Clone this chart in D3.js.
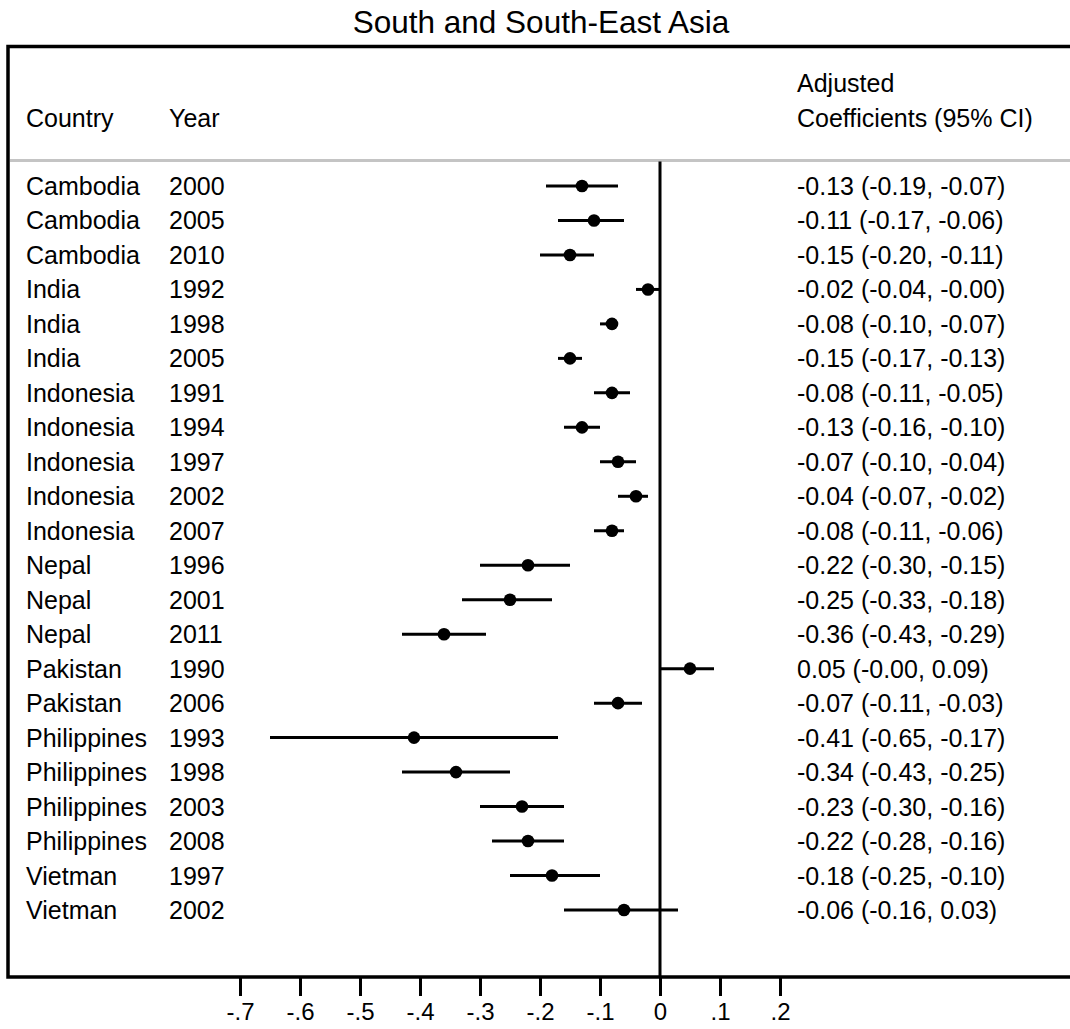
<!DOCTYPE html>
<html>
<head>
<meta charset="utf-8">
<script src="https://cdn.jsdelivr.net/npm/d3@7"></script>
<style>
  html, body { margin: 0; padding: 0; background: #fff; }
  svg { display: block; font-family: "Liberation Sans", Arial, sans-serif; }
</style>
</head>
<body>
<svg id="chart" width="1070" height="1029"></svg>
<script>
// Forest plot rows: country, survey year, adjusted coefficient and 95% CI
const countries = ["Cambodia","Cambodia","Cambodia","India","India","India",
  "Indonesia","Indonesia","Indonesia","Indonesia","Indonesia",
  "Nepal","Nepal","Nepal","Pakistan","Pakistan",
  "Philippines","Philippines","Philippines","Philippines","Vietman","Vietman"];
const years = [2000,2005,2010,1992,1998,2005,1991,1994,1997,2002,2007,
  1996,2001,2011,1990,2006,1993,1998,2003,2008,1997,2002];
const estimates = [-0.13,-0.11,-0.15,-0.02,-0.08,-0.15,-0.08,-0.13,-0.07,-0.04,-0.08,
  -0.22,-0.25,-0.36,0.05,-0.07,-0.41,-0.34,-0.23,-0.22,-0.18,-0.06];
const lower = [-0.19,-0.17,-0.20,-0.04,-0.10,-0.17,-0.11,-0.16,-0.10,-0.07,-0.11,
  -0.30,-0.33,-0.43,-0.00,-0.11,-0.65,-0.43,-0.30,-0.28,-0.25,-0.16];
const upper = [-0.07,-0.06,-0.11,-0.00,-0.07,-0.13,-0.05,-0.10,-0.04,-0.02,-0.06,
  -0.15,-0.18,-0.29,0.09,-0.03,-0.17,-0.25,-0.16,-0.16,-0.10,0.03];
const tickValues = [-0.7,-0.6,-0.5,-0.4,-0.3,-0.2,-0.1,0,0.1,0.2];
const tickLabels = ["-.7","-.6","-.5","-.4","-.3","-.2","-.1","0",".1",".2"];

const rows = countries.map((c, i) => ({
  country: c, year: years[i], est: estimates[i], lo: lower[i], hi: upper[i]
}));

// Two-decimal label; negative zero keeps its sign ("-0.00")
const fmt = v => ((v < 0 || Object.is(v, -0)) ? "-" : "") + Math.abs(v).toFixed(2);

const svg = d3.select("#chart");
const W = 1070;
const frameLeft = 8, frameTop = 46.5, frameBottom = 977;
const headerLine = 160.5;
const fontSize = 25;

const x = d3.scaleLinear().domain([-0.7, 0.2]).range([240, 780]);
const y = d3.scaleLinear().domain([0, rows.length - 1]).range([186, 910]);

// Title
svg.append("text")
  .attr("x", 541).attr("y", 33)
  .attr("text-anchor", "middle")
  .attr("font-size", 31.5)
  .text("South and South-East Asia");

// Frame (open on the right)
svg.append("path")
  .attr("d", `M${W},${frameTop}H${frameLeft}V${frameBottom}H${W}`)
  .attr("fill", "none").attr("stroke", "#000").attr("stroke-width", 3.5);

// Header separator
svg.append("line")
  .attr("x1", frameLeft + 2).attr("x2", W)
  .attr("y1", headerLine).attr("y2", headerLine)
  .attr("stroke", "#c4c4c4").attr("stroke-width", 3);

// Column headers
const hdr = svg.append("g").attr("font-size", fontSize);
hdr.append("text").attr("x", 26).attr("y", 127).text("Country");
hdr.append("text").attr("x", 169).attr("y", 127).text("Year");
hdr.append("text").attr("x", 797).attr("y", 92).text("Adjusted");
hdr.append("text").attr("x", 797).attr("y", 127).text("Coefficients (95% CI)");

// Reference line at zero
svg.append("line")
  .attr("x1", x(0)).attr("x2", x(0))
  .attr("y1", headerLine + 1).attr("y2", frameBottom)
  .attr("stroke", "#000").attr("stroke-width", 3);

// Row text
const txt = svg.append("g").attr("font-size", fontSize);
rows.forEach((r, i) => {
  const yy = y(i) + 9;
  txt.append("text").attr("x", 26).attr("y", yy).text(r.country);
  txt.append("text").attr("x", 169).attr("y", yy).text(r.year);
  txt.append("text").attr("x", 797).attr("y", yy)
    .text(`${fmt(r.est)} (${fmt(r.lo)}, ${fmt(r.hi)})`);
});

// Confidence intervals
svg.append("g").selectAll("line").data(rows).join("line")
  .attr("x1", d => x(d.lo)).attr("x2", d => x(d.hi))
  .attr("y1", (d, i) => y(i)).attr("y2", (d, i) => y(i))
  .attr("stroke", "#000").attr("stroke-width", 3);

// Point estimates
svg.append("g").selectAll("circle").data(rows).join("circle")
  .attr("cx", d => x(d.est)).attr("cy", (d, i) => y(i))
  .attr("r", 6.3).attr("fill", "#000");

// Bottom axis
const axis = d3.axisBottom(x)
  .tickValues(tickValues)
  .tickFormat((d, i) => tickLabels[i])
  .tickSize(19).tickPadding(7);
const ag = svg.append("g").attr("transform", `translate(0,${frameBottom})`).call(axis);
ag.select(".domain").remove();
ag.selectAll(".tick line").attr("stroke", "#000").attr("stroke-width", 3);
ag.selectAll(".tick text").attr("fill", "#000")
  .attr("font-size", 24)
  .attr("font-family", "\"Liberation Sans\", Arial, sans-serif");
</script>
</body>
</html>
